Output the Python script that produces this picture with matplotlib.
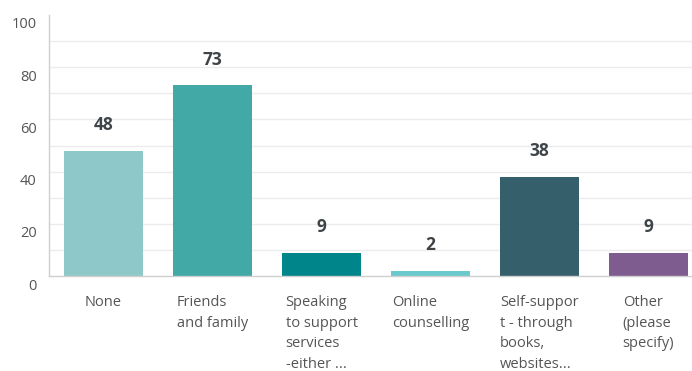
import matplotlib
matplotlib.use("Agg")
import matplotlib.pyplot as plt
import matplotlib.transforms as mtransforms

categories = ["None", "Friends\nand family", "Speaking\nto support\nservices\n-either ...",
              "Online\ncounselling", "Self-suppor\nt - through\nbooks,\nwebsites...",
              "Other\n(please\nspecify)"]
values = [48, 73, 9, 2, 38, 9]
colors = ["#8ec8c9", "#43a9a7", "#00868a", "#6ac9cc", "#355f6b", "#7e5c8f"]
yticks = [0, 20, 40, 60, 80, 100]

plt.rcParams["font.family"] = ["Open Sans", "DejaVu Sans"]

fig = plt.figure(figsize=(6.92, 3.71), dpi=100)
W, H = 692, 371
ax = fig.add_axes([49 / W, (H - 276) / H, (703 - 49) / W, 261 / H])

x = list(range(len(values)))
ax.bar(x, values, width=0.72, color=colors, zorder=2)
ax.set_xlim(-0.5, len(values) - 0.5)
ax.set_ylim(0, 100)

# light gridlines every 10
for g in range(10, 100, 10):
    ax.axhline(g, color="#ececec", linewidth=1, zorder=0)

for s in ["top", "right"]:
    ax.spines[s].set_visible(False)
for s in ["left", "bottom"]:
    ax.spines[s].set_color("#cfcfcf")
    ax.spines[s].set_linewidth(1)

ax.set_yticks(yticks)
ax.set_yticklabels([str(t) for t in yticks])
ax.tick_params(axis="y", length=0, pad=9, labelsize=10.5, labelcolor="#555555")
shift = mtransforms.ScaledTranslation(0, -8 / 100, fig.dpi_scale_trans)
for lab in ax.get_yticklabels():
    lab.set_transform(lab.get_transform() + shift)

ax.set_xticks([])
for i, lab in enumerate(categories):
    ax.annotate(lab, xy=(i, 0), xytext=(0, -14), textcoords="offset points",
                ha="center", va="top", multialignment="left",
                fontsize=10.5, color="#555555", linespacing=1.5)

for i, v in enumerate(values):
    ax.annotate(str(v), xy=(i, v), xytext=(0, 18.5), textcoords="offset points",
                ha="center", va="center", fontsize=12.5, fontweight="bold",
                color="#3f4448")

fig.savefig("out.png", dpi=100)
